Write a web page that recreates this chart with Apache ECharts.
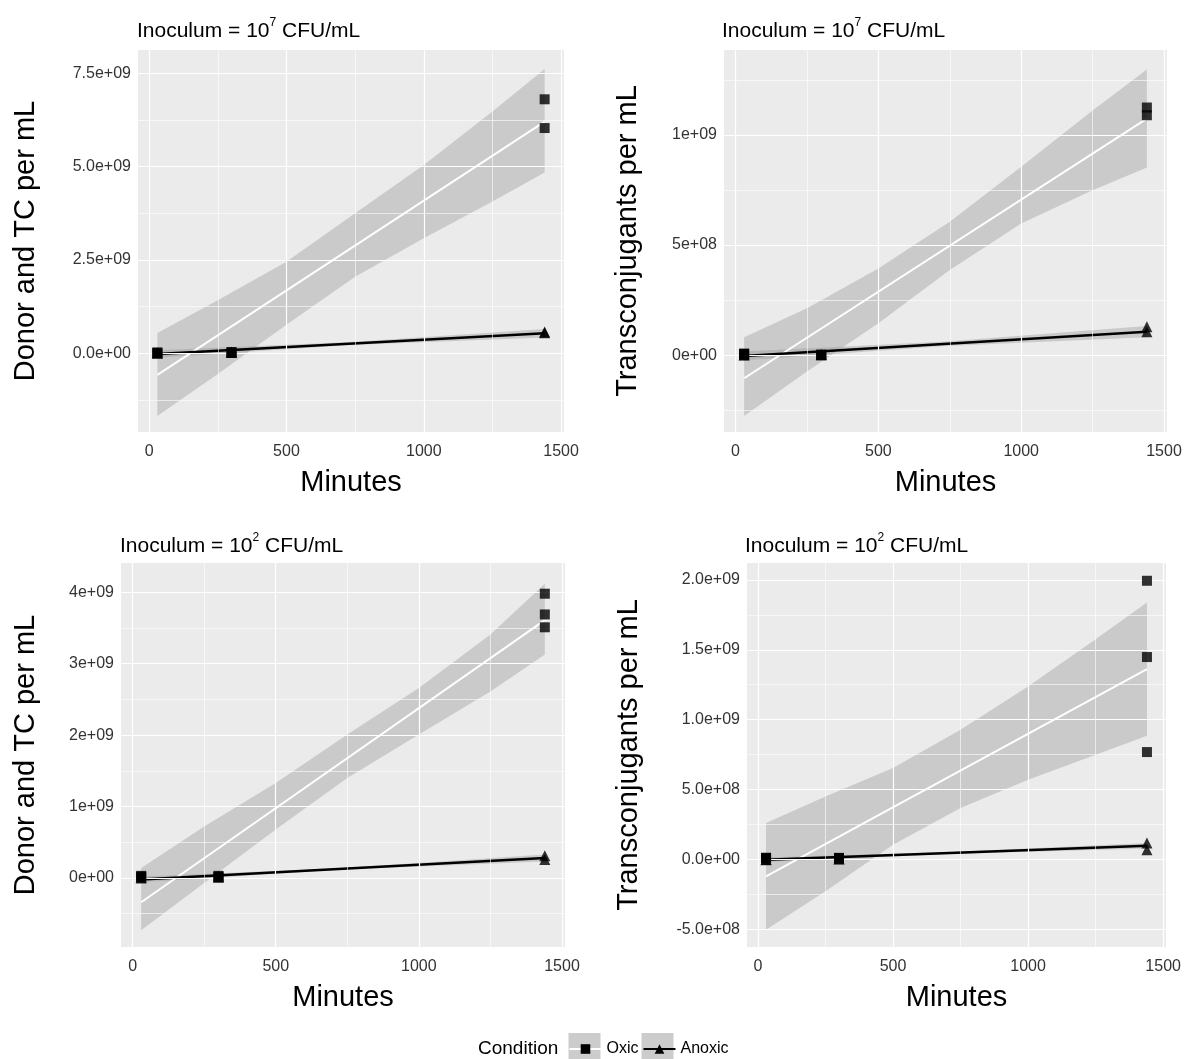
<!DOCTYPE html>
<html>
<head>
<meta charset="utf-8">
<title>Donor and transconjugant counts over time</title>
<script src="https://cdn.jsdelivr.net/npm/echarts@6/dist/echarts.min.js"></script>
<style>
  html, body { margin: 0; padding: 0; background: #fff; }
  #chart { width: 1188px; height: 1059px; }
</style>
</head>
<body>
<div id="chart"></div>
<script>
  // values (minutes, counts per mL)
  const xTicks = [0, 500, 1000, 1500]
  const xLabels = ['0', '500', '1000', '1500']
  const xMinor = [250, 750, 1250]
  const fitMinutes = [30, 1440]
  const bandMinutes = [30, 250, 500, 750, 1000, 1250, 1440]
  const anoxicBandMinutes = [30, 735, 1440]

  // A: inoculum 10^7, donor and TC
  const aOxicMin = [30, 30, 30, 300, 300, 300, 1440, 1440]
  const aOxic = [1e7, 2e7, 0, 1e7, 2e7, 3e7, 6.80e9, 6.03e9]
  const aAnoxicMin = [30, 30, 300, 300, 1440, 1440]
  const aAnoxic = [0, 1e7, 2e7, 3e7, 5.7e8, 5.5e8]
  const aOxicFit = [-5.8e8, 6.2e9]
  const aOxicUp = [0.54e9, 1.42e9, 2.45e9, 3.75e9, 5.04e9, 6.47e9, 7.61e9]
  const aOxicLow = [-1.68e9, -0.56e9, 0.76e9, 2.05e9, 3.08e9, 4.06e9, 4.84e9]
  const aAnoxicFit = [-2e7, 5.36e8]
  const aAnoxicUp = [0.08e9, 0.30e9, 0.65e9]
  const aAnoxicLow = [-0.12e9, 0.22e9, 0.42e9]
  const aYTicks = [0, 2.5e9, 5e9, 7.5e9]
  const aYLabels = ['0.0e+00', '2.5e+09', '5.0e+09', '7.5e+09']
  const aYMinor = [-1.25e9, 1.25e9, 3.75e9, 6.25e9]

  // B: inoculum 10^7, transconjugants
  const bOxicMin = [30, 30, 30, 300, 300, 300, 1440, 1440]
  const bOxic = [6e6, 4e6, 8e6, 0, 2e6, 3e6, 1.124e9, 1.089e9]
  const bAnoxicMin = [30, 30, 300, 300, 1440, 1440]
  const bAnoxic = [1e6, 3e6, 2e6, 4e6, 1.30e8, 1.07e8]
  const bOxicFit = [-1.04e8, 1.074e9]
  const bOxicUp = [0.82e8, 2.13e8, 3.94e8, 6.06e8, 8.55e8, 11.1e8, 12.96e8]
  const bOxicLow = [-2.75e8, -0.74e8, 1.45e8, 3.87e8, 5.98e8, 7.49e8, 8.52e8]
  const bAnoxicFit = [-3e6, 1.07e8]
  const bAnoxicUp = [0.17e8, 0.62e8, 1.33e8]
  const bAnoxicLow = [-0.23e8, 0.42e8, 0.82e8]
  const bYTicks = [0, 5e8, 1e9]
  const bYLabels = ['0e+00', '5e+08', '1e+09']
  const bYMinor = [-2.5e8, 2.5e8, 7.5e8, 1.25e9]

  // C: inoculum 10^2, donor and TC
  const cOxicMin = [30, 30, 30, 300, 300, 300, 1440, 1440, 1440]
  const cOxic = [2e7, 1e7, 3e7, 2e7, 1e7, 3e7, 3.98e9, 3.69e9, 3.51e9]
  const cAnoxicMin = [30, 30, 300, 300, 1440, 1440]
  const cAnoxic = [0, 1e7, 1e7, 2e7, 0.31e9, 0.26e9]
  const cOxicFit = [-0.34e9, 3.61e9]
  const cOxicUp = [0.14e9, 0.72e9, 1.33e9, 2.01e9, 2.66e9, 3.41e9, 4.12e9]
  const cOxicLow = [-0.73e9, -0.07e9, 0.68e9, 1.40e9, 2.01e9, 2.61e9, 3.13e9]
  const cAnoxicFit = [-2e7, 2.8e8]
  const cAnoxicUp = [0.02e9, 0.14e9, 0.33e9]
  const cAnoxicLow = [-0.06e9, 0.12e9, 0.23e9]
  const cYTicks = [0, 1e9, 2e9, 3e9, 4e9]
  const cYLabels = ['0e+00', '1e+09', '2e+09', '3e+09', '4e+09']
  const cYMinor = [-0.5e9, 0.5e9, 1.5e9, 2.5e9, 3.5e9]

  // D: inoculum 10^2, transconjugants
  const dOxicMin = [30, 30, 30, 300, 300, 300, 1440, 1440, 1440]
  const dOxic = [1.2e7, 0.8e7, 1.4e7, 1.2e7, 1.0e7, 1.3e7, 19.93e8, 14.48e8, 7.69e8]
  const dAnoxicMin = [30, 30, 300, 300, 1440, 1440]
  const dAnoxic = [0, 2e6, 4e6, 6e6, 1.19e8, 0.71e8]
  const dOxicFit = [-1.19e8, 13.62e8]
  const dOxicUp = [2.62e8, 4.52e8, 6.55e8, 9.29e8, 12.38e8, 15.76e8, 18.38e8]
  const dOxicLow = [-5.0e8, -2.26e8, 1.07e8, 3.69e8, 5.71e8, 7.5e8, 8.86e8]
  const dAnoxicFit = [0, 1.0e8]
  const dAnoxicUp = [0.15e8, 0.57e8, 1.2e8]
  const dAnoxicLow = [-0.15e8, 0.43e8, 0.8e8]
  const dYTicks = [-5e8, 0, 5e8, 1e9, 1.5e9, 2e9]
  const dYLabels = ['-5.0e+08', '0.0e+00', '5.0e+08', '1.0e+09', '1.5e+09', '2.0e+09']
  const dYMinor = [-2.5e8, 2.5e8, 7.5e8, 1.25e9, 1.75e9]

  const font = "'Liberation Sans', Arial, sans-serif"

  // layout of the four facets
  const panels = [
    { grid: { left: 138, top: 50, width: 426, height: 382 }, yMin: -2.11e9, yMax: 8.12e9, exp: '7',
      yName: 'Donor and TC per mL', yGap: 98, titleX: 137, titleY: 17,
      yTicks: aYTicks, yLabels: aYLabels, yMinor: aYMinor,
      oxicMin: aOxicMin, oxic: aOxic, anoxicMin: aAnoxicMin, anoxic: aAnoxic,
      oxicFit: aOxicFit, oxicUp: aOxicUp, oxicLow: aOxicLow,
      anoxicFit: aAnoxicFit, anoxicUp: aAnoxicUp, anoxicLow: aAnoxicLow },
    { grid: { left: 724, top: 50, width: 443, height: 382 }, yMin: -3.48e8, yMax: 1.385e9, exp: '7',
      yName: 'Transconjugants per mL', yGap: 82, titleX: 722, titleY: 17,
      yTicks: bYTicks, yLabels: bYLabels, yMinor: bYMinor,
      oxicMin: bOxicMin, oxic: bOxic, anoxicMin: bAnoxicMin, anoxic: bAnoxic,
      oxicFit: bOxicFit, oxicUp: bOxicUp, oxicLow: bOxicLow,
      anoxicFit: bAnoxicFit, anoxicUp: bAnoxicUp, anoxicLow: bAnoxicLow },
    { grid: { left: 121, top: 563, width: 444, height: 384 }, yMin: -0.966e9, yMax: 4.41e9, exp: '2',
      yName: 'Donor and TC per mL', yGap: 81, titleX: 120, titleY: 532,
      yTicks: cYTicks, yLabels: cYLabels, yMinor: cYMinor,
      oxicMin: cOxicMin, oxic: cOxic, anoxicMin: cAnoxicMin, anoxic: cAnoxic,
      oxicFit: cOxicFit, oxicUp: cOxicUp, oxicLow: cOxicLow,
      anoxicFit: cAnoxicFit, anoxicUp: cAnoxicUp, anoxicLow: cAnoxicLow },
    { grid: { left: 747, top: 563, width: 419, height: 384 }, yMin: -6.24e8, yMax: 2.12e9, exp: '2',
      yName: 'Transconjugants per mL', yGap: 104, titleX: 745, titleY: 532,
      yTicks: dYTicks, yLabels: dYLabels, yMinor: dYMinor,
      oxicMin: dOxicMin, oxic: dOxic, anoxicMin: dAnoxicMin, anoxic: dAnoxic,
      oxicFit: dOxicFit, oxicUp: dOxicUp, oxicLow: dOxicLow,
      anoxicFit: dAnoxicFit, anoxicUp: dAnoxicUp, anoxicLow: dAnoxicLow }
  ]

  function pickLabel(ticks, labels) {
    return function (v) {
      const k = ticks.findIndex(t => Math.abs(t - v) <= Math.abs(t) * 1e-6 + 1e-6)
      return k < 0 ? '' : labels[k]
    }
  }

  function pairs(xs, ys) {
    return xs.map((x, k) => [x, ys[k]])
  }

  // grey confidence ribbon, drawn through the axis scales
  function ribbon(idx, mins, low, up) {
    return {
      type: 'custom', name: 'ribbon', xAxisIndex: idx, yAxisIndex: idx, z: 2, silent: true,
      data: mins.map((m, k) => [m, low[k], up[k]]),
      encode: { x: 0, y: [1, 2] },
      renderItem: function (params, api) {
        if (params.dataIndex !== 0) return
        const pts = []
        for (let k = 0; k < mins.length; k++) pts.push(api.coord([mins[k], up[k]]))
        for (let k = mins.length - 1; k >= 0; k--) pts.push(api.coord([mins[k], low[k]]))
        return { type: 'polygon', shape: { points: pts }, style: { fill: 'rgba(153,153,153,0.4)' } }
      }
    }
  }

  // ggplot-like white grid (major + minor)
  function gridLines(idx, p) {
    const data = []
    xMinor.forEach(v => data.push({ xAxis: v, lineStyle: { width: 0.6 } }))
    xTicks.forEach(v => data.push({ xAxis: v, lineStyle: { width: 1.2 } }))
    p.yMinor.forEach(v => data.push({ yAxis: v, lineStyle: { width: 0.6 } }))
    p.yTicks.forEach(v => data.push({ yAxis: v, lineStyle: { width: 1.2 } }))
    return {
      type: 'line', name: 'grid', xAxisIndex: idx, yAxisIndex: idx, data: [], z: 1, silent: true,
      markLine: {
        silent: true, symbol: ['none', 'none'], label: { show: false }, animation: false,
        lineStyle: { color: '#ffffff', type: 'solid' }, data: data
      }
    }
  }

  const series = []
  panels.forEach((p, i) => {
    series.push(gridLines(i, p))
    series.push(ribbon(i, bandMinutes, p.oxicLow, p.oxicUp))
    series.push(ribbon(i, anoxicBandMinutes, p.anoxicLow, p.anoxicUp))
    series.push({
      type: 'line', name: 'Oxic', xAxisIndex: i, yAxisIndex: i, z: 3,
      data: pairs(fitMinutes, p.oxicFit), showSymbol: false, symbol: 'rect',
      lineStyle: { color: '#ffffff', width: 2 }, itemStyle: { color: '#000' }
    })
    series.push({
      type: 'line', name: 'Anoxic', xAxisIndex: i, yAxisIndex: i, z: 3,
      data: pairs(fitMinutes, p.anoxicFit), showSymbol: false, symbol: 'triangle',
      lineStyle: { color: '#000000', width: 2.6 }, itemStyle: { color: '#000' }
    })
    series.push({
      type: 'scatter', name: 'Anoxic', xAxisIndex: i, yAxisIndex: i, z: 4,
      symbol: 'triangle', symbolSize: 11, itemStyle: { color: '#000' },
      data: pairs(p.anoxicMin, p.anoxic)
    })
    series.push({
      type: 'scatter', name: 'Oxic', xAxisIndex: i, yAxisIndex: i, z: 5,
      symbol: 'rect', symbolSize: 10, itemStyle: { color: '#000' },
      data: pairs(p.oxicMin, p.oxic)
    })
  })

  const chart = echarts.init(document.getElementById('chart'))
  chart.setOption({
    animation: false,
    backgroundColor: '#ffffff',
    textStyle: { fontFamily: font },
    title: panels.map(p => ({
      text: '{t|Inoculum = 10}{s|' + p.exp + '}{t| CFU/mL}',
      left: p.titleX, top: p.titleY, padding: 0,
      textStyle: {
        fontWeight: 'normal',
        rich: {
          t: { fontSize: 21, lineHeight: 28, color: '#000', fontWeight: 'normal', fontFamily: font },
          s: { fontSize: 12, lineHeight: 12, verticalAlign: 'top', color: '#000', fontWeight: 'normal', fontFamily: font }
        }
      }
    })),
    grid: panels.map(p => Object.assign({
      show: true, backgroundColor: '#EBEBEB', borderWidth: 0, containLabel: false, outerBoundsMode: 'none'
    }, p.grid)),
    xAxis: panels.map((p, i) => ({
      type: 'value', gridIndex: i, min: -40.5, max: 1510.5,
      axisLine: { show: false }, splitLine: { show: false },
      axisTick: { show: true, length: 4, lineStyle: { color: '#333333' }, customValues: xTicks },
      axisLabel: { customValues: xTicks, formatter: pickLabel(xTicks, xLabels), fontSize: 16,
        color: '#333333', margin: 12, fontFamily: font },
      name: 'Minutes', nameLocation: 'middle', nameGap: 36,
      nameTextStyle: { fontSize: 29, color: '#000', fontFamily: font }
    })),
    yAxis: panels.map((p, i) => ({
      type: 'value', gridIndex: i, min: p.yMin, max: p.yMax,
      axisLine: { show: false }, splitLine: { show: false },
      axisTick: { show: true, length: 4, lineStyle: { color: '#333333' }, customValues: p.yTicks },
      axisLabel: { customValues: p.yTicks, formatter: pickLabel(p.yTicks, p.yLabels), fontSize: 16,
        color: '#333333', margin: 7, fontFamily: font },
      name: p.yName, nameLocation: 'middle', nameGap: p.yGap,
      nameTextStyle: { fontSize: 29, color: '#000', fontFamily: font }
    })),
    legend: {
      data: ['Oxic', 'Anoxic'], left: 568.5, top: 1041, padding: 0, selectedMode: false,
      itemWidth: 32, itemHeight: 12, itemGap: 4,
      textStyle: { fontSize: 16, color: '#000', fontFamily: font }
    },
    graphic: [
      { type: 'text', left: 478, top: 1039, style: { text: 'Condition', fontSize: 19, fill: '#000', fontFamily: font } },
      { type: 'rect', shape: { x: 568.5, y: 1033, width: 32, height: 27 }, style: { fill: '#CCCCCC' }, z: 0 },
      { type: 'rect', shape: { x: 641.5, y: 1033, width: 32, height: 27 }, style: { fill: '#CCCCCC' }, z: 0 }
    ],
    series: series
  })
</script>
</body>
</html>
